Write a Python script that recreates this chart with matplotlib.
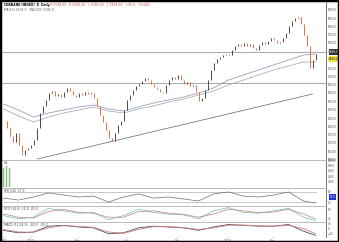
import matplotlib
matplotlib.use("Agg")
from matplotlib import pyplot as plt
from matplotlib import transforms
from matplotlib.patches import Rectangle

W, H = 339, 242

closes = [5232, 5190, 5142, 5106, 5160, 5088, 5028, 5058, 5070, 5088,
          5118, 5190, 5280, 5322, 5358, 5400, 5412, 5382, 5394, 5376,
          5406, 5430, 5412, 5388, 5376, 5400, 5388, 5406, 5394, 5400,
          5370, 5322, 5268, 5226, 5178, 5130, 5112, 5160, 5208, 5232,
          5298, 5358, 5388, 5418, 5442, 5454, 5472, 5490, 5478, 5454,
          5436, 5424, 5406, 5400, 5448, 5478, 5496, 5484, 5508, 5478,
          5454, 5466, 5442, 5448, 5406, 5352, 5370, 5418, 5478, 5538,
          5580, 5604, 5616, 5628, 5634, 5628, 5658, 5682, 5694, 5682,
          5700, 5682, 5694, 5670, 5658, 5688, 5706, 5694, 5712, 5730,
          5718, 5700, 5706, 5730, 5760, 5802, 5832, 5850, 5856, 5814,
          5748, 5682, 5550, 5598, 5634]

# moving averages, one value every 5 bars
ma_idx = [0, 5, 10, 15, 20, 25, 30, 35, 40, 45, 50, 55, 60, 65, 70, 75,
          80, 85, 90, 95, 100, 104]
ma_fast = [5334, 5298, 5256, 5280, 5298, 5316, 5328, 5304, 5292, 5316, 5340,
           5358, 5376, 5400, 5430, 5478, 5508, 5538, 5568, 5598, 5628, 5634]
ma_slow = [5304, 5262, 5226, 5256, 5280, 5298, 5316, 5292, 5280, 5304, 5322,
           5346, 5364, 5388, 5412, 5448, 5478, 5508, 5538, 5562, 5586, 5586]

trend_idx = [11.3, 103]
trend_val = [5004, 5394]
level_hi = 5646
level_lo = 5460

vol_idx = [0, 1, 2]
vol_val = [70, 76, 72]

rsi = [44, 33, 50, 72, 61, 50, 55, 22, 50, 67, 44, 50, 39, 28, 67, 78,
       55, 50, 61, 78, 28, 17]
stoch_k = [40, 20, 30, 85, 70, 55, 60, 15, 40, 80, 60, 50, 45, 20, 70, 90,
           60, 55, 70, 85, 30, 10]
stoch_d = [50, 30, 25, 65, 80, 60, 55, 30, 30, 65, 70, 55, 48, 30, 50, 80,
           70, 58, 62, 80, 50, 20]
macd = [-10, -25, -20, 15, 20, 10, 5, -30, -25, 5, 15, 10, 5, -10, 10, 25,
        20, 15, 15, 25, -15, -40]
macd_sig = [-5, -20, -22, 5, 18, 14, 8, -20, -28, -5, 12, 12, 7, -5, 5, 20,
            22, 17, 15, 20, 0, -30]

month_pos = [0, 9, 24.7, 41, 58, 74.7, 89.7]
month_labels = ["2011", "2012", "Apr", "Jul", "Oct", "2013", "Apr"]


def rect(x0, y0, x1, y1):
    return [x0 / W, 1 - y1 / H, (x1 - x0) / W, (y1 - y0) / H]


def style(ax, top=True):
    for s in ["left", "bottom"]:
        ax.spines[s].set_visible(False)
    ax.spines["top"].set_visible(top)
    ax.spines["top"].set_color("#b0b0b0")
    ax.spines["top"].set_linewidth(0.6)
    ax.spines["right"].set_color("#606060")
    ax.spines["right"].set_linewidth(0.6)
    ax.yaxis.tick_right()
    ax.tick_params(axis="y", labelsize=2, colors="#555555", length=1, width=0.3, pad=0.5)
    ax.tick_params(axis="x", bottom=False, labelbottom=False)
    ax.set_xlim(-0.5, 107.5)


fig = plt.figure(figsize=(W / 100, H / 100), dpi=100)

# price panel
ax = fig.add_axes(rect(2, 2, 326, 160))
style(ax, top=False)
ax.set_ylim(4998, 5946)
ax.set_yticks(range(5000, 5950, 50))
ax.set_yticklabels([f"{v:.1f}" for v in range(5000, 5950, 50)])
ax.axhline(level_hi, color="#a8a8a8", lw=0.7)
ax.axhline(level_lo, color="#a8a8a8", lw=0.7)
ax.plot(trend_idx, trend_val, color="#707070", lw=0.55)
ax.plot(ma_idx, ma_fast, color="#8a9cbc", lw=0.55)
ax.plot(ma_idx, ma_slow, color="#a8a8a8", lw=0.55)
for i, c in enumerate(closes):
    o = closes[i - 1] if i else c
    col = "#4a4a4a" if c >= o else "#e8703c"
    ax.vlines(i, min(o, c), max(o, c), color=col, lw=0.7)

tr = transforms.blended_transform_factory(ax.transAxes, ax.transData)
ax.text(1.01, level_hi, f"{level_hi:.1f}", transform=tr, fontsize=2, color="white",
        va="center", ha="left", bbox=dict(boxstyle="square,pad=0.2", fc="#303030", ec="none"))
ax.text(1.01, closes[-1] - 30, f"{closes[-1]:.1f}", transform=tr, fontsize=2, color="black",
        va="center", ha="left", bbox=dict(boxstyle="square,pad=0.2", fc="#f2e33a", ec="none"))

fig.text(4 / W, 1 - 5 / H, "CNXBANK [INDEX]  D  Daily", fontsize=2.2, weight="bold", va="center")
fig.text(50 / W, 1 - 5 / H, "O 5598.00   H 5640.50   L 5580.20   C 5634.00   +36.0   +0.64%",
         fontsize=2.2, color="#d04040", va="center")
fig.text(4 / W, 1 - 10 / H, "MA(50) 5634.0   MA(100) 5586.0", fontsize=2.2, color="#606060", va="center")

# volume panel
av = fig.add_axes(rect(2, 160, 326, 187))
style(av)
av.set_ylim(0, 100)
av.bar(vol_idx, vol_val, width=0.6, color="#8fc88f", edgecolor="#5a9a5a", lw=0.2)
av.set_yticks([20, 40, 60, 80, 100])
av.set_yticklabels(["2000", "4000", "6000", "8000", "10000"])
av.text(0.005, 0.95, "Vol", transform=av.transAxes, fontsize=2.2, va="top", color="#404040")

# rsi panel
ar = fig.add_axes(rect(2, 188, 326, 206))
style(ar)
ar.set_ylim(0, 100)
ar.plot([0, 104], [80, 80], color="#b0b0b0", lw=0.5)
ar.plot([0, 104], [20, 20], color="#b0b0b0", lw=0.5)
ar.plot(ma_idx, rsi, color="#707070", lw=0.5)
ar.set_yticks([20, 80])
ar.text(1.01, 50, f"{rsi[-1]:.1f}", transform=transforms.blended_transform_factory(ar.transAxes, ar.transData),
        fontsize=2, color="white", va="center", ha="left",
        bbox=dict(boxstyle="square,pad=0.2", fc="#2233cc", ec="none"))
ar.text(0.005, 0.95, "RSI (14)  17.3", transform=ar.transAxes, fontsize=2.2, va="top", color="#404040")

# stochastic panel
ast = fig.add_axes(rect(2, 206, 326, 222))
style(ast)
ast.set_ylim(0, 100)
ast.plot(ma_idx, stoch_k, color="#6cbfa0", lw=0.5)
ast.plot(ma_idx, stoch_d, color="#c08080", lw=0.5)
ast.set_yticks([20, 80])
ast.text(0.005, 0.95, "STO (14,3)  10.0  20.0", transform=ast.transAxes, fontsize=2.2, va="top", color="#404040")

# macd panel
am = fig.add_axes(rect(2, 222, 326, 237))
style(am)
am.set_ylim(-50, 40)
am.plot(ma_idx, macd, color="#505050", lw=0.6)
am.plot(ma_idx, macd_sig, color="#d08080", lw=0.6)
am.set_yticks([-30, 0, 30])
am.text(0.005, 0.95, "MACD (12,26,9)  -40.0  -30.0", transform=am.transAxes, fontsize=2.2, va="top", color="#404040")
am.tick_params(axis="x", bottom=True, labelbottom=True, labelsize=2.2, length=1, width=0.3,
               pad=0.5, colors="#555555")
am.set_xticks(month_pos)
am.set_xticklabels(month_labels)

# outer frame
fig.patches.append(Rectangle((0, 0), 1, 1, transform=fig.transFigure, fill=False,
                             ec="black", lw=2.5))

fig.savefig("out.png", dpi=100)
